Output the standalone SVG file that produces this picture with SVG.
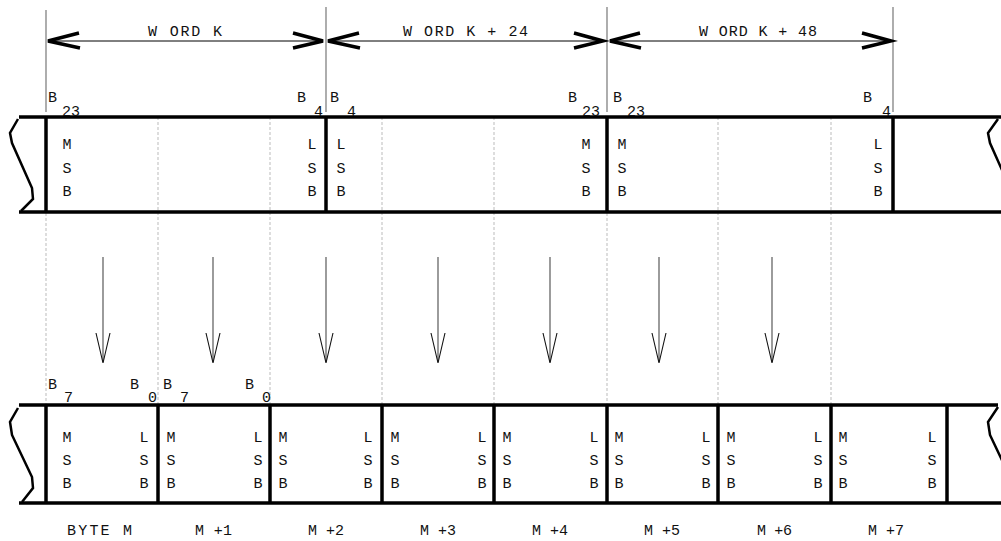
<svg xmlns="http://www.w3.org/2000/svg" width="1001" height="541" viewBox="0 0 1001 541">
<style>
text{font-family:"Liberation Mono","DejaVu Sans Mono",monospace;font-size:15px;fill:#111;white-space:pre}
.c{text-anchor:middle}
.thick{stroke:#000;stroke-width:3.5;fill:none}
.band{stroke:#000;stroke-width:3.5;fill:none}
.brk{stroke:#000;stroke-width:2.5;fill:none;stroke-linejoin:miter}
.dash{stroke:#bbb;stroke-width:1;stroke-dasharray:3,2;fill:none}
.ext{stroke:#777;stroke-width:1.2;fill:none}
.dim{stroke:#000;stroke-width:1;fill:none}
.dhead{stroke:#000;stroke-width:3.5;fill:none;stroke-linecap:butt}
.shaft{stroke:#666;stroke-width:1.3;fill:none}
.head{stroke:#111;stroke-width:1.1;fill:none}
</style>
<rect width="1001" height="541" fill="#fff"/>

<!-- guide dashed lines -->
<g id="guides">
<line class="dash" x1="46" y1="213" x2="46" y2="405"/>
<line class="dash" x1="158" y1="117" x2="158" y2="405"/>
<line class="dash" x1="270" y1="117" x2="270" y2="405"/>
<line class="dash" x1="382" y1="117" x2="382" y2="405"/>
<line class="dash" x1="494" y1="117" x2="494" y2="405"/>
<line class="dash" x1="607" y1="213" x2="607" y2="405"/>
<line class="dash" x1="718" y1="117" x2="718" y2="405"/>
<line class="dash" x1="831" y1="117" x2="831" y2="405"/>
</g>

<!-- dimension lines -->
<g id="dimensions">
<line class="ext" x1="46" y1="10" x2="46" y2="112"/>
<line class="ext" x1="326" y1="7" x2="326" y2="112"/>
<line class="ext" x1="607" y1="7" x2="607" y2="112"/>
<line class="ext" x1="893" y1="7" x2="893" y2="112"/>
<line class="dim" x1="48" y1="41" x2="323" y2="41"/>
<polyline class="dhead" points="79,33 48,41 80,48"/>
<polyline class="dhead" points="293,33 323,41 293,48"/>
<line class="dim" x1="328" y1="41" x2="603" y2="41"/>
<polyline class="dhead" points="359,33 328,41 360,48"/>
<polyline class="dhead" points="574,33 603,41 574,48"/>
<line class="dim" x1="610" y1="41" x2="891" y2="41"/>
<polyline class="dhead" points="640,33 610,41 641,48"/>
<polyline class="dhead" points="862,33 891,41 862,48"/>
<text x="148" y="36" textLength="74" lengthAdjust="spacing">W ORD K</text>
<text x="403" y="36" textLength="125" lengthAdjust="spacing">W ORD K + 24</text>
<text x="699" y="36" textLength="118" lengthAdjust="spacing">W ORD K + 48</text>
</g>

<!-- top band -->
<g id="top-band">
<line class="band" x1="19" y1="117" x2="1001" y2="117"/>
<line class="band" x1="19" y1="212" x2="1001" y2="212"/>
<polyline class="brk" points="18,119 10,133 12,143 32,188 33,199 21,211"/>
<polyline class="brk" points="998,119 988,133 990,143 1010,188"/>
</g>

<g id="word-k">
<line class="thick" x1="46" y1="117" x2="46" y2="212"/>
<text x="48" y="102">B</text><text x="62" y="116">23</text>
<text x="297" y="102">B</text><text x="314" y="116">4</text>
<text class="c" x="67" y="149">M</text><text class="c" x="67" y="173">S</text><text class="c" x="67" y="196">B</text>
<text class="c" x="312" y="149">L</text><text class="c" x="312" y="173">S</text><text class="c" x="312" y="196">B</text>
</g>
<g id="word-k24">
<line class="thick" x1="326" y1="117" x2="326" y2="212"/>
<text x="330" y="102">B</text><text x="347" y="116">4</text>
<text x="568" y="102">B</text><text x="582" y="116">23</text>
<text class="c" x="341" y="149">L</text><text class="c" x="341" y="173">S</text><text class="c" x="341" y="196">B</text>
<text class="c" x="586" y="149">M</text><text class="c" x="586" y="173">S</text><text class="c" x="586" y="196">B</text>
</g>
<g id="word-k48">
<line class="thick" x1="607" y1="117" x2="607" y2="212"/>
<line class="thick" x1="893" y1="117" x2="893" y2="212"/>
<text x="613" y="102">B</text><text x="627" y="116">23</text>
<text x="863" y="102">B</text><text x="882" y="116">4</text>
<text class="c" x="622" y="149">M</text><text class="c" x="622" y="173">S</text><text class="c" x="622" y="196">B</text>
<text class="c" x="878" y="149">L</text><text class="c" x="878" y="173">S</text><text class="c" x="878" y="196">B</text>
</g>

<!-- connectors -->
<g id="connectors">
<line class="shaft" x1="103" y1="257" x2="103" y2="362"/><polyline class="head" points="96,333 103,363 110,333"/>
<line class="shaft" x1="213" y1="257" x2="213" y2="362"/><polyline class="head" points="206,333 213,363 220,333"/>
<line class="shaft" x1="326" y1="257" x2="326" y2="362"/><polyline class="head" points="319,333 326,363 333,333"/>
<line class="shaft" x1="438" y1="257" x2="438" y2="362"/><polyline class="head" points="431,333 438,363 445,333"/>
<line class="shaft" x1="550" y1="257" x2="550" y2="362"/><polyline class="head" points="543,333 550,363 557,333"/>
<line class="shaft" x1="659" y1="257" x2="659" y2="362"/><polyline class="head" points="652,333 659,363 666,333"/>
<line class="shaft" x1="772" y1="257" x2="772" y2="362"/><polyline class="head" points="765,333 772,363 779,333"/>
</g>

<!-- bottom band -->
<g id="bottom-band">
<line class="band" x1="19" y1="405" x2="998" y2="405"/>
<line class="band" x1="19" y1="503" x2="1001" y2="503"/>
<polyline class="brk" points="18,408 10,422 12,435 32,477 33,488 22,502"/>
<polyline class="brk" points="998,407 988,422 990,435 1010,477"/>
<line class="thick" x1="947" y1="405" x2="947" y2="503"/>
</g>

<g id="byte-m">
<line class="thick" x1="46" y1="405" x2="46" y2="503"/>
<text x="48" y="389">B</text><text x="64" y="402">7</text>
<text x="130" y="389">B</text><text x="148" y="402">0</text>
<text class="c" x="67" y="442">M</text><text class="c" x="67" y="465">S</text><text class="c" x="67" y="488">B</text>
<text class="c" x="144" y="442">L</text><text class="c" x="144" y="465">S</text><text class="c" x="144" y="488">B</text>
<text x="67" y="535" textLength="65" lengthAdjust="spacing">BYTE M</text>
</g>
<g id="byte-m1">
<line class="thick" x1="158" y1="405" x2="158" y2="503"/>
<text x="163" y="389">B</text><text x="180" y="402">7</text>
<text x="245" y="389">B</text><text x="262" y="402">0</text>
<text class="c" x="171" y="442">M</text><text class="c" x="171" y="465">S</text><text class="c" x="171" y="488">B</text>
<text class="c" x="258" y="442">L</text><text class="c" x="258" y="465">S</text><text class="c" x="258" y="488">B</text>
<text x="195" y="535" textLength="37" lengthAdjust="spacing">M +1</text>
</g>
<g id="byte-m2">
<line class="thick" x1="270" y1="405" x2="270" y2="503"/>
<text class="c" x="283" y="442">M</text><text class="c" x="283" y="465">S</text><text class="c" x="283" y="488">B</text>
<text class="c" x="368" y="442">L</text><text class="c" x="368" y="465">S</text><text class="c" x="368" y="488">B</text>
<text x="308" y="535" textLength="36" lengthAdjust="spacing">M +2</text>
</g>
<g id="byte-m3">
<line class="thick" x1="382" y1="405" x2="382" y2="503"/>
<text class="c" x="395" y="442">M</text><text class="c" x="395" y="465">S</text><text class="c" x="395" y="488">B</text>
<text class="c" x="482" y="442">L</text><text class="c" x="482" y="465">S</text><text class="c" x="482" y="488">B</text>
<text x="420" y="535" textLength="36" lengthAdjust="spacing">M +3</text>
</g>
<g id="byte-m4">
<line class="thick" x1="494" y1="405" x2="494" y2="503"/>
<text class="c" x="507" y="442">M</text><text class="c" x="507" y="465">S</text><text class="c" x="507" y="488">B</text>
<text class="c" x="594" y="442">L</text><text class="c" x="594" y="465">S</text><text class="c" x="594" y="488">B</text>
<text x="532" y="535" textLength="36" lengthAdjust="spacing">M +4</text>
</g>
<g id="byte-m5">
<line class="thick" x1="607" y1="405" x2="607" y2="503"/>
<text class="c" x="619" y="442">M</text><text class="c" x="619" y="465">S</text><text class="c" x="619" y="488">B</text>
<text class="c" x="706" y="442">L</text><text class="c" x="706" y="465">S</text><text class="c" x="706" y="488">B</text>
<text x="644" y="535" textLength="36" lengthAdjust="spacing">M +5</text>
</g>
<g id="byte-m6">
<line class="thick" x1="718" y1="405" x2="718" y2="503"/>
<text class="c" x="731" y="442">M</text><text class="c" x="731" y="465">S</text><text class="c" x="731" y="488">B</text>
<text class="c" x="818" y="442">L</text><text class="c" x="818" y="465">S</text><text class="c" x="818" y="488">B</text>
<text x="757" y="535" textLength="35" lengthAdjust="spacing">M +6</text>
</g>
<g id="byte-m7">
<line class="thick" x1="831" y1="405" x2="831" y2="503"/>
<text class="c" x="843" y="442">M</text><text class="c" x="843" y="465">S</text><text class="c" x="843" y="488">B</text>
<text class="c" x="932" y="442">L</text><text class="c" x="932" y="465">S</text><text class="c" x="932" y="488">B</text>
<text x="868" y="535" textLength="36" lengthAdjust="spacing">M +7</text>
</g>
</svg>
